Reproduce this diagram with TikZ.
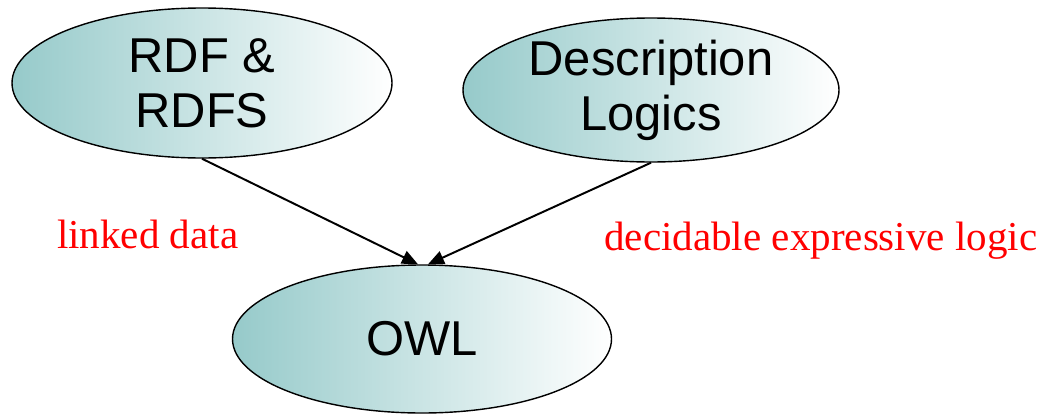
\documentclass[tikz,border=0pt]{standalone}
\usepackage{fontspec}
\setmainfont{Liberation Serif}
\setsansfont{Liberation Sans}
\usetikzlibrary{shapes.geometric,arrows.meta}

\definecolor{tealfill}{RGB}{150,202,202}
\definecolor{notered}{RGB}{255,0,0}

\tikzset{
	bubble/.style={ellipse, draw, line width=1pt, inner sep=0pt, left color=tealfill, right color=white,
		align=center, font=\sffamily\fontsize{34.8}{39}\selectfont},
	link/.style={line width=1.4pt, -{Triangle[length=0.4cm,width=0.34cm]}},
	note/.style={text=notered, anchor=base west, inner sep=0pt, font=\fontsize{29.2}{34}\selectfont}
}

\begin{document}
\begin{tikzpicture}
	
	\useasboundingbox (0,0) rectangle (26.125,10.35);
	
	% Top ellipses
	\node[bubble, minimum width=9.5cm, minimum height=3.75cm] (rdf) at (5.05,8.275) {RDF \&\\RDFS};
	\node[bubble, minimum width=9.4cm, minimum height=3.6cm] (dl) at (16.275,8.1) {Description\\Logics};
	
	% Bottom ellipse
	\node[bubble, minimum width=9.475cm, minimum height=3.7cm] (owl) at (10.55,1.875) {OWL};
	
	% Arrows
	\draw[link] (rdf.south) -- ([xshift=-0.1cm]owl.north);
	\draw[link] (dl.south) -- ([xshift=0.15cm]owl.north);
	
	% Red labels
	\node[note] (ld) at (1.42,4.15) {linked data};
	\node[note] (del) at (15.1,4.1) {decidable expressive logic};
	
\end{tikzpicture}
\end{document}
